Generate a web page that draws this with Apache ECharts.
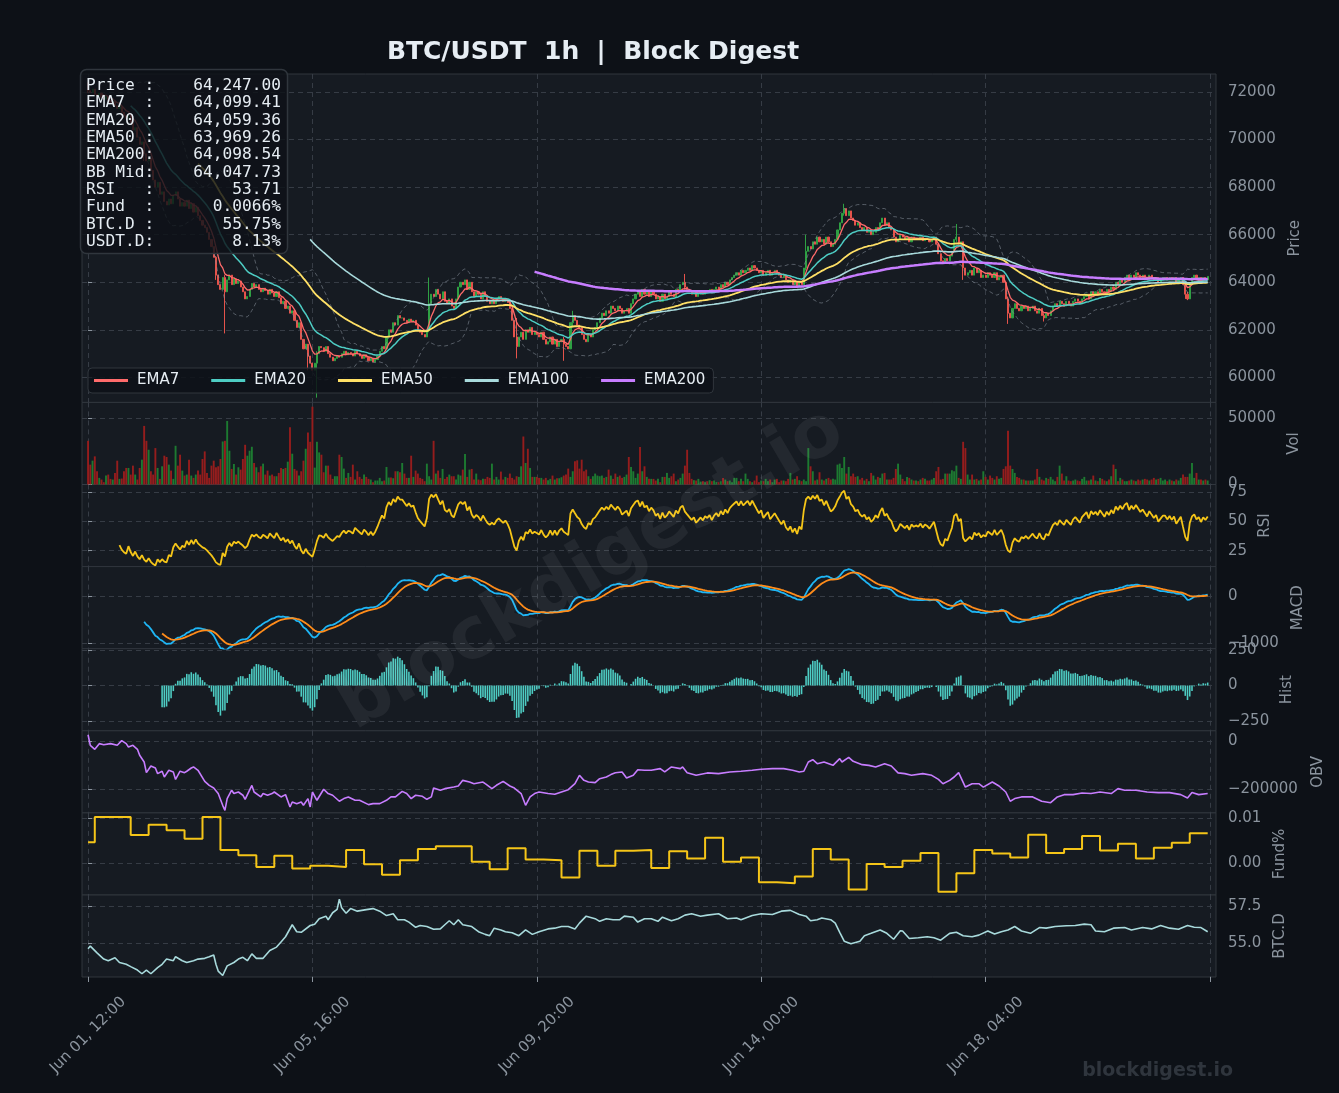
<!DOCTYPE html>
<html><head><meta charset="utf-8">
<script src="https://cdn.jsdelivr.net/npm/echarts@6/dist/echarts.min.js"></script>
<style>html,body{margin:0;padding:0;background:#0d1117;}#c{width:1339px;height:1093px;}</style>
</head><body><div id="c"></div>
<script>
// ---------------- DATA ----------------
const xTickHours = [0, 100, 200, 300, 400, 500];
const xTickLabels = ['Jun 01, 12:00', 'Jun 05, 16:00', 'Jun 09, 20:00', 'Jun 14, 00:00', 'Jun 18, 04:00'];
const priceTicks = [60000, 62000, 64000, 66000, 68000, 70000, 72000];
const volTicks = [0, 50000];
const rsiTicks = [25, 50, 75];
const macdTicks = [-1000, 0];
const histTicks = [-250, 0, 250];
const obvTicks = [-200000, 0];
const fundTicks = [0, 0.01];
const btcdTicks = [55, 57.5];
const legendNames = ['EMA7', 'EMA20', 'EMA50', 'EMA100', 'EMA200'];
const infoLines = [
  'Price :    64,247.00',
  'EMA7  :    64,099.41',
  'EMA20 :    64,059.36',
  'EMA50 :    63,969.26',
  'EMA200:    64,098.54',
  'BB Mid:    64,047.73',
  'RSI   :        53.71',
  'Fund  :      0.0066%',
  'BTC.D :       55.75%',
  'USDT.D:        8.13%'
];
const firstOpen = 72150;
// hourly closes, hour 0 = Jun 01 12:00
const closes = [
72050,71980,72120,71900,71850,71950,71780,71700,71820,71640,
71550,71600,71420,71300,71380,71150,71000,70900,71050,70700,
70400,70500,70100,69800,69900,69400,69100,69200,68700,68300,
68000,68200,67700,67800,67400,67250,67500,67300,67650,67800,
67500,67200,67350,67200,67450,67100,67300,66950,67150,66800,
66600,66400,66300,66100,65800,65500,65050,64300,63900,63700,
64200,63600,64100,64300,63900,64150,63950,64050,63800,63600,
63300,63400,63700,63950,63800,63900,63700,63600,63750,63650,
63500,63700,63550,63400,63600,63350,63100,63200,62900,63000,
62700,62800,62400,62100,62300,61600,61200,61400,60900,60600,
60300,60600,61000,61300,61250,61100,61300,61000,60850,60700,
60800,60900,60850,61000,61100,60950,61050,61000,60900,61100,
61000,60900,60800,60950,60850,60700,60800,60650,60750,60900,
61100,61300,61200,61700,62000,61900,62300,62200,62600,62500,
62500,62400,62300,62450,62350,62400,62200,62000,61900,61800,
61700,62000,63100,63500,63400,63700,63500,63300,63600,63200,
63100,63300,63000,62900,63300,63800,64000,63900,64100,63700,
64000,63600,63400,63600,63500,63300,63600,63400,63200,63100,
63200,63100,63300,63400,63300,63200,63300,63150,62900,62400,
61700,61300,61700,61900,61600,62000,61900,62100,61800,61900,
61800,61700,61900,61600,61400,61500,61700,61400,61600,61300,
61500,61600,61400,61300,61200,62300,62600,62400,62200,62100,
61800,61600,61500,61800,61700,62000,62100,62300,62500,62700,
62600,62800,62700,63000,62900,62800,63000,62900,62700,62800,
62900,62700,63100,63300,63500,63600,63400,63700,63500,63600,
63400,63600,63500,63300,63400,63200,63500,63300,63400,63600,
63500,63400,63700,63600,63900,64000,63800,63700,63600,63500,
63600,63400,63500,63600,63500,63650,63600,63700,63550,63700,
63800,63700,63900,63800,64000,63900,64100,64200,64300,64400,
64300,64500,64400,64500,64600,64500,64700,64600,64500,64400,
64500,64300,64400,64500,64300,64400,64500,64400,64300,64200,
64300,64100,64000,64100,63900,64000,63800,64000,63900,64600,
65300,65500,65400,65700,65600,65900,65700,65800,65600,65900,
65700,65500,65600,65800,66200,66500,66900,67100,66800,67000,
66700,66600,66400,66500,66300,66200,66300,66100,66200,66000,
66100,66300,66200,66500,66700,66400,66500,66300,66200,65900,
65700,65800,66000,65900,65800,65900,65700,65900,65800,65850,
65800,65900,65750,65850,65800,65700,65800,65900,65600,65200,
64900,64800,65000,64900,65100,65300,65800,65900,65600,65700,
64600,64300,64400,64500,64300,64600,64400,64500,64200,64300,
64200,64400,64300,64200,64400,64100,64200,64300,64000,63300,
62700,62500,62900,63100,62900,62800,63000,62900,63000,62800,
62900,63000,62800,62700,62900,62600,62500,62700,62600,62800,
63000,63100,63000,63200,63100,63000,63200,63100,63000,63200,
63300,63200,63100,63300,63400,63500,63300,63600,63500,63600,
63500,63700,63600,63500,63700,63600,63800,63700,64000,63900,
64100,64000,64200,64300,64100,64300,64200,64400,64300,64200,
64300,64200,64100,64300,64200,64100,64200,64000,64100,64200,
64200,64100,64200,64100,64200,64000,64100,64200,63900,63500,
63300,63900,64200,64300,64100,64200,64000,64200,64100,64247
];
// notable wicks: hour -> [high, low]
const wicks = {
  0:[72400,71950], 25:[69700,69100], 57:[65100,64100], 61:[64300,61850], 98:[61300,60300],
  102:[61100,59150], 152:[64200,61900], 191:[62500,60800], 212:[61700,60700], 216:[62800,62100],
  266:[64350,63700], 320:[66000,64500], 337:[67300,66800], 387:[66450,65700], 390:[65700,64100],
  410:[63400,62250], 426:[62700,62350], 489:[64000,63300], 490:[63600,63250]
};
const volumes = [
33000,15000,18000,21250,10000,5000,3750,1750,6750,7500,
4250,3750,8750,18000,4250,4500,10000,12500,12500,7500,
14250,7500,3750,12500,18750,44250,33000,26250,10000,7500,
27500,12500,4250,13750,21750,20750,15000,10500,4250,29250,
14250,22500,10500,6750,7500,18750,6750,5000,7500,10500,
7500,19250,25000,8750,5000,14250,18000,13000,13750,19250,
32500,33000,48000,25500,11750,15500,7500,13000,11250,19250,
30000,21750,25500,28500,16250,13000,9250,13750,15750,7500,
10500,6750,7500,6250,6250,8750,12500,11750,12500,17250,
43250,23250,11750,10500,6750,10000,18000,27000,39250,32250,
58750,12750,32250,24250,22500,9250,14250,14250,7500,4250,
6250,6250,22500,20750,12000,5000,8750,5750,15000,3750,
10000,5750,4250,7500,5750,4250,3750,1750,3000,3000,
5000,2500,3000,13250,5250,5250,4750,10000,10000,9250,
16250,8250,5000,5000,21750,5750,10500,8250,5000,4250,
2500,15750,6250,3750,33000,8250,10500,5000,11750,4250,
5750,7500,6250,6250,3750,7500,6750,11250,23000,5750,
11250,11750,3750,8250,3750,3250,4250,4250,5750,5000,
15750,3750,5750,3750,9750,3750,5750,5000,8250,5000,
3750,6250,5750,13750,36250,16250,27000,12500,5750,5750,
5750,5000,5000,3750,5000,3250,4250,6750,3750,4750,
4750,5500,6750,7500,12000,5750,10000,17500,18250,12000,
18750,10000,11250,6250,4250,6250,8250,6750,6250,6750,
5000,5750,11250,6750,4250,8250,5750,6750,5000,5750,
7500,20750,13250,10000,5000,8250,28250,10000,13750,5750,
4250,
4250,4250,3000,4250,1750,5750,5750,8750,5000,6250,
8250,2500,3750,5000,8250,14250,26250,8750,4250,3250,
3000,4250,2250,2500,1750,2500,3250,2500,3000,1750,
1750,2500,5000,3750,2500,3000,1750,5000,5000,2500,
4250,2500,8250,4250,2500,1750,3000,6750,
1750,3000,2500,4250,2500,3750,1750,3750,4250,1750,
3000,3000,2500,4250,8750,3750,4250,6250,3250,2500,
3750,2500,27500,13750,10000,3000,3750,9250,3750,3000,
4250,5000,3750,4250,3750,15000,15750,12500,20750,8250,
13250,6250,8250,5750,6250,3750,5000,3000,4250,
2500,8750,6750,3750,5750,5000,8250,8750,3750,3750,
3750,5000,11750,15750,7500,4250,2500,5750,5000,3750,
3000,3000,2500,3750,5000,4250,3000,3000,3750,5000,
10000,13250,3750,4250,8250,8250,8250,10750,10000,14250,
5000,4250,32250,27500,7500,3750,7500,3750,4250,
3000,3750,10000,5750,3750,6750,5000,3750,6250,4250,
5000,11750,13750,40500,14250,11750,8750,5750,5000,3750,
3750,3000,3000,3000,3000,3750,11750,5750,3750,3000,
5000,4250,5750,3750,2500,5750,14250,8250,3000,6250,
3000,2500,3000,3750,3000,2500,4250,5750,3000,
3000,3750,6750,3000,2500,5000,4250,3000,2500,3750,
6250,15000,11750,2500,5000,3750,2500,2500,3000,3750,
3000,2500,3750,3000,3750,4250,3750,3000,3750,5000,
3750,4250,5000,3000,3750,2500,3750,3000,2500,3750,
3000,5000,7500,5750,5750,8250,16250,5000,8750,3750,3750,3000,3750,
3000
];
// OBV: [hour, value]
const obvPoints = [
[0,26000],[1,-18000],[3,-34500],[5,-11000],[7,-15500],[10,-11000],[13,-18000],[15,1500],[17,-11000],[18,-25000],
[20,-18000],[22,-34500],[23,-59500],[25,-87500],[26,-132000],[28,-104000],[30,-112500],[31,-136000],[33,-126000],[34,-150000],
[36,-122000],[38,-129000],[39,-160000],[41,-126000],[43,-132000],[44,-126000],[46,-112500],[47,-108000],[49,-122000],[52,-168000],
[54,-185000],[56,-196000],[58,-219000],[60,-268000],[61,-289000],[62,-240000],[64,-205000],[65,-219000],[67,-212500],[69,-226000],
[70,-243000],[73,-185000],[74,-212500],[77,-233000],[78,-219000],[80,-226000],[82,-219000],[83,-212500],[86,-233000],[88,-223500],
[90,-275000],[91,-254000],[93,-261000],[95,-254000],[96,-268000],[98,-240000],[99,-275000],[100,-212500],[102,-247000],[105,-201000],
[107,-219000],[109,-226000],[112,-251000],[114,-240000],[116,-233000],[119,-247000],[121,-247000],[125,-265000],[127,-261000],[130,-261000],
[133,-247000],[135,-233000],[137,-233000],[140,-210000],[142,-219000],[144,-240000],[146,-226000],[149,-230500],[151,-243000],[153,-233000],
[154,-196000],[157,-205500],[159,-198500],[163,-191500],[165,-187500],[167,-164000],[170,-171000],[172,-178000],[176,-171000],[177,-178000],
[180,-198500],[182,-184500],[185,-168000],[188,-187500],[190,-196000],[193,-219000],[195,-268000],[197,-233000],[199,-219000],[201,-212500],
[205,-219000],[208,-222000],[211,-212500],[214,-203000],[217,-178000],[219,-143000],[221,-164000],[223,-171000],[226,-173500],[228,-157000],
[231,-150000],[233,-140000],[235,-132000],[238,-129000],[240,-154000],[243,-143000],[245,-119500],[248,-122000],[251,-122000],[255,-115000],
[257,-129000],[260,-108000],[264,-115000],[265,-108000],[267,-132000],[271,-143000],[276,-133000],[281,-136000],[286,-129000],[291,-126000],
[296,-122000],[300,-118000],[305,-115000],[310,-115000],[314,-122000],[317,-129000],[319,-126000],[321,-87500],[323,-78000],[325,-94500],
[328,-87500],[332,-101500],[335,-73500],[336,-87500],[339,-68000],[341,-84500],[345,-98500],[348,-101500],[351,-108000],[355,-94500],
[358,-104000],[361,-133000],[364,-136000],[367,-143000],[372,-136000],[376,-143000],[379,-160000],[381,-178000],[384,-164000],[386,-150000],
[388,-132000],[391,-192000],[394,-178000],[397,-178000],[399,-192000],[403,-171000],[406,-187500],[409,-212500],[411,-251000],[413,-240000],
[416,-233000],[421,-233000],[425,-251000],[429,-257000],[432,-233000],[435,-223500],[439,-223500],[443,-216500],[447,-219000],[451,-212500],
[456,-219000],[459,-198500],[462,-205500],[467,-205500],[472,-212500],[477,-215000],[482,-215000],[487,-223500],[490,-237500],[492,-215000],
[495,-223500],[499,-219000]
];
// funding rate (%) changes: hour where each 8h period starts, and its rate
const fundHours = [0,3,19,27,35,43,51,59,67,75,83,91,99,107,115,123,131,139,147,155,171,179,187,195,203,211,219,227,235,243,251,259,267,275,283,291,299,307,315,323,331,339,347,355,363,371,379,387,395,403,411,419,427,435,443,451,459,467,475,483,491,499];
const fundRates = [0.0046,0.0102,0.0062,0.0085,0.0073,0.0054,0.0102,0.0029,0.0017,-0.0009,0.0016,-0.0012,-0.0006,-0.0009,0.0029,-0.0003,-0.0026,0.0006,0.0031,0.0037,0.0003,-0.0014,0.0033,0.0008,0.0006,-0.0032,0.0027,-0.0006,0.0027,0.0029,-0.0011,0.0026,0.0010,0.0056,0.0003,0.0012,-0.0043,-0.0045,-0.0030,0.0031,0.0008,-0.0059,-0.0002,-0.0009,0.0005,0.0022,-0.0064,-0.0023,0.0029,0.0021,0.0012,0.0063,0.0022,0.0031,0.0060,0.0028,0.0043,0.0010,0.0034,0.0045,0.0066,0.0066];
// BTC dominance (%): [hour, value]
const btcdPoints = [
[0,54.61],[1,54.79],[4,54.33],[7,53.91],[9,53.80],[12,54.00],[14,53.68],[17,53.56],[19,53.40],[22,53.17],
[24,52.92],[26,53.17],[28,52.92],[31,53.33],[33,53.56],[35,53.91],[38,53.80],[39,54.07],[42,53.80],[44,53.68],
[47,53.80],[49,53.91],[52,53.96],[54,54.07],[56,54.19],[57,53.56],[58,53.10],[60,52.80],[62,53.45],[65,53.68],
[67,53.91],[69,54.03],[71,53.80],[73,54.26],[75,53.96],[78,53.96],[81,54.49],[84,54.72],[86,55.07],[88,55.42],
[91,56.23],[93,55.76],[95,55.72],[99,56.18],[101,56.27],[103,56.64],[106,56.81],[107,56.57],[109,57.04],[111,57.27],
[112,57.96],[113,57.38],[115,57.01],[117,57.32],[120,57.15],[124,57.25],[127,57.32],[130,57.15],[133,56.85],[136,56.97],
[138,56.57],[141,56.57],[143,56.41],[146,56.06],[148,56.18],[151,56.11],[154,55.93],[157,55.95],[159,56.23],[161,56.50],
[163,56.23],[165,56.57],[167,56.23],[171,56.11],[174,55.76],[177,55.58],[179,55.49],[181,56.00],[184,55.88],[186,55.76],
[189,55.69],[192,55.49],[195,55.88],[198,55.58],[201,55.76],[205,55.95],[208,56.00],[211,56.11],[214,56.11],[217,55.95],
[219,56.34],[222,56.81],[226,56.64],[228,56.46],[231,56.64],[234,56.57],[237,56.57],[239,56.81],[243,56.74],[245,56.41],
[248,56.64],[251,56.64],[254,56.46],[256,56.74],[260,56.50],[263,56.64],[266,56.88],[269,56.97],[273,56.81],[276,56.88],
[281,56.97],[285,56.64],[289,56.69],[291,56.57],[296,56.85],[300,56.97],[305,56.92],[309,57.15],[313,57.20],[317,56.92],
[320,56.81],[322,56.50],[325,56.57],[327,56.69],[331,56.57],[333,56.34],[335,55.72],[337,55.12],[340,54.95],[344,55.12],
[346,55.49],[349,55.65],[353,55.88],[356,55.65],[359,55.25],[362,55.83],[363,55.81],[366,55.30],[370,55.35],[374,55.42],
[377,55.35],[380,55.19],[384,55.65],[387,55.72],[390,55.49],[394,55.42],[397,55.53],[401,55.81],[404,55.60],[407,55.76],
[410,55.88],[413,56.11],[416,55.81],[420,55.65],[424,56.04],[427,56.00],[431,56.11],[436,56.16],[440,56.18],[444,56.27],
[447,56.23],[449,55.81],[453,55.76],[457,56.00],[462,56.04],[465,55.88],[470,56.04],[474,55.95],[478,56.18],[482,56.00],
[486,55.93],[490,56.18],[493,56.06],[496,56.04],[499,55.76]
];

// ---------------- DERIVED INDICATORS ----------------
const N = closes.length;
const opens = closes.map((c, i) => i === 0 ? firstOpen : closes[i - 1]);
const candleData = closes.map((c, i) => {
  const o = opens[i];
  let hi = Math.max(o, c), lo = Math.min(o, c);
  if (wicks[i]) { hi = Math.max(hi, wicks[i][0]); lo = Math.min(lo, wicks[i][1]); }
  return [i, o, c, lo, hi];
});
function ema(src, span, minP) {
  const a = 2 / (span + 1); const out = []; let prev = null, n = 0;
  src.forEach(v => {
    if (v == null) { out.push(null); return; }
    prev = prev == null ? v : a * v + (1 - a) * prev; n++;
    out.push(n >= minP ? prev : null);
  });
  return out;
}
const pairs = arr => arr.map((v, i) => v == null ? null : [i, v]).filter(p => p);
const ema7 = ema(closes, 7, 7), ema20 = ema(closes, 20, 20), ema50 = ema(closes, 50, 50);
const ema100 = ema(closes, 100, 100), ema200 = ema(closes, 200, 200);
const bbU = [], bbL = [];
for (let i = 0; i < N; i++) {
  if (i < 19) { bbU.push(null); bbL.push(null); continue; }
  let s = 0; for (let k = i - 19; k <= i; k++) s += closes[k];
  const m = s / 20; let q = 0; for (let k = i - 19; k <= i; k++) q += (closes[k] - m) ** 2;
  const sd = Math.sqrt(q / 19); bbU.push(m + 2 * sd); bbL.push(m - 2 * sd);
}
// RSI(14), Wilder smoothing
const rsi = new Array(N).fill(null);
{
  let ag = 0, al = 0;
  for (let k = 1; k <= 14; k++) { const d = closes[k] - closes[k - 1]; if (d > 0) ag += d; else al -= d; }
  ag /= 14; al /= 14;
  rsi[14] = 100 - 100 / (1 + ag / al);
  for (let i = 15; i < N; i++) {
    const d = closes[i] - closes[i - 1];
    ag = (ag * 13 + Math.max(d, 0)) / 14; al = (al * 13 + Math.max(-d, 0)) / 14;
    rsi[i] = al === 0 ? 100 : 100 - 100 / (1 + ag / al);
  }
}
const e12 = ema(closes, 12, 1), e26 = ema(closes, 26, 1);
const macd = closes.map((c, i) => i < 25 ? null : e12[i] - e26[i]);
const signal = ema(macd, 9, 9);
const hist = macd.map((m, i) => (m == null || signal[i] == null) ? null : m - signal[i]);

// ---------------- STYLE ----------------
const UP = '#2ea043', DOWN = '#e5534b';
const VUP = '#1d7a31', VDOWN = '#951d1d';
const TXT = '#8b949e', GRIDC = '#363c45', FONT = 'DejaVu Sans';
const tops = [74, 402.4, 484.5, 566.6, 648.7, 730.8, 812.9, 895];
const heights = [328.4, 82.1, 82.1, 82.1, 82.1, 82.1, 82.1, 82];
const minus = v => String(v).replace('-', '\u2212');
const yCfg = [
  {min: 58950, max: 72755, ticks: priceTicks, name: 'Price', gap: 72, fmt: minus},
  {min: 0, max: 62000, ticks: volTicks, name: 'Vol', gap: 69, fmt: minus},
  {min: 11.4, max: 81.5, ticks: rsiTicks, name: 'RSI', gap: 40, fmt: minus},
  {min: -1124, max: 639, ticks: macdTicks, name: 'MACD', gap: 75, fmt: minus},
  {min: -319, max: 259, ticks: histTicks, name: 'Hist', gap: 64, fmt: minus},
  {min: -299600, max: 42500, ticks: obvTicks, name: 'OBV', gap: 95, fmt: minus},
  {min: -0.00711, max: 0.01113, ticks: fundTicks, name: 'Fund%', gap: 56, fmt: v => v.toFixed(2)},
  {min: 52.70, max: 58.24, ticks: btcdTicks, name: 'BTC.D', gap: 56, fmt: v => v.toFixed(1)}
];
const grid = tops.map((t, k) => ({left: 82, right: 123, top: t, height: heights[k], show: true,
  backgroundColor: '#161b22', borderColor: '#30363d', borderWidth: 1, containLabel: false}));
const xAxis = tops.map((t, k) => ({
  type: 'value', gridIndex: k, min: -2.7, max: 502.7,
  axisLine: {show: false},
  axisTick: {show: k === 7, customValues: xTickHours, length: 5, lineStyle: {color: TXT}},
  axisLabel: {show: k === 7, customValues: xTickHours.slice(0, 5), formatter: v => xTickLabels[Math.round(v / 100)] || '',
    rotate: 45, align: 'center', verticalAlign: 'middle', margin: 58, color: TXT, fontSize: 15, fontFamily: FONT},
  splitLine: {show: true, lineStyle: {color: GRIDC, type: [5, 4], width: 1}}
}));
const yAxis = yCfg.map((c, k) => ({
  type: 'value', gridIndex: k, position: 'right', min: c.min, max: c.max, scale: true,
  name: c.name, nameLocation: 'middle', nameGap: c.gap, nameRotate: 90,
  nameTextStyle: {color: TXT, fontSize: 15, fontFamily: FONT},
  axisLine: {show: false},
  axisTick: {show: true, customValues: c.ticks, length: 4, lineStyle: {color: TXT}},
  axisLabel: {customValues: c.ticks, formatter: c.fmt, color: TXT, fontSize: 15, fontFamily: FONT, margin: 12},
  splitLine: {show: true, lineStyle: {color: GRIDC, type: [5, 4], width: 1}}
}));
const line = (name, data, color, width, k, extra) => Object.assign({
  name, type: 'line', xAxisIndex: k, yAxisIndex: k, data, showSymbol: false, symbol: 'none',
  color, lineStyle: {color, width}, z: 3, silent: true
}, extra || {});

const series = [
  {type: 'candlestick', name: 'Price', xAxisIndex: 0, yAxisIndex: 0, data: candleData, barWidth: '70%', z: 2,
    itemStyle: {color: UP, color0: DOWN, borderColor: UP, borderColor0: DOWN, borderWidth: 1}},
  line('BBU', pairs(bbU), 'rgba(139,148,158,0.55)', 1, 0, {lineStyle: {color: 'rgba(139,148,158,0.55)', width: 1, type: [4, 3]}}),
  line('BBL', pairs(bbL), 'rgba(139,148,158,0.55)', 1, 0, {lineStyle: {color: 'rgba(139,148,158,0.55)', width: 1, type: [4, 3]}}),
  line('EMA7', pairs(ema7), '#ff6b6b', 1.3, 0),
  line('EMA20', pairs(ema20), '#4ecdc4', 1.5, 0),
  line('EMA50', pairs(ema50), '#ffe066', 1.8, 0),
  line('EMA100', pairs(ema100), '#a8dadc', 1.6, 0),
  line('EMA200', pairs(ema200), '#c77dff', 2.5, 0),
  {type: 'bar', name: 'Vol', xAxisIndex: 1, yAxisIndex: 1, barWidth: '85%', silent: true,
    data: volumes.map((v, i) => ({value: [i, v], itemStyle: {color: closes[i] >= opens[i] ? VUP : VDOWN}}))},
  line('RSI', pairs(rsi), '#f5c518', 1.8, 2),
  line('MACD', pairs(macd), '#1fb6f5', 1.8, 3),
  line('Signal', pairs(signal), '#ff8c1a', 1.8, 3),
  {type: 'bar', name: 'Hist', xAxisIndex: 4, yAxisIndex: 4, barWidth: '70%', silent: true,
    data: pairs(hist), itemStyle: {color: '#4ecdc4'}},
  line('OBV', obvPoints, '#c77dff', 1.6, 5),
  line('Fund', fundHours.map((h, i) => [h, fundRates[i]]), '#f5c518', 2, 6, {step: 'end'}),
  line('BTC.D', btcdPoints, '#a8dadc', 1.6, 7)
];

const chart = echarts.init(document.getElementById('c'), null, {renderer: 'canvas'});
chart.setOption({
  animation: false,
  backgroundColor: '#0d1117',
  grid, xAxis, yAxis, series,
  legend: {
    data: legendNames, left: 88, top: 368, icon: 'rect', itemWidth: 34, itemHeight: 3, itemGap: 32,
    padding: [5, 8, 5, 6], backgroundColor: 'rgba(13,17,23,0.85)', borderColor: '#30363d', borderWidth: 1, borderRadius: 4,
    textStyle: {color: '#e6edf3', fontSize: 15, fontFamily: FONT, padding: [0, 0, 0, 4]}
  },
  graphic: [
    {type: 'text', z: 100, x: 0, y: 0, style: {text: 'BTC/USDT  1h  |  Block Digest', x: 593, y: 52,
      textAlign: 'center', textVerticalAlign: 'middle', fill: '#e6edf3', font: 'bold 25px "DejaVu Sans"'}},
    {type: 'rect', z: 100, shape: {x: 80.5, y: 69.5, width: 207, height: 184, r: 6},
      style: {fill: 'rgba(13,17,23,0.82)', stroke: '#30363d', lineWidth: 1.5}},
    {type: 'text', z: 101, x: 86, y: 77, style: {text: infoLines.join('\n'), fill: '#e6edf3',
      font: '16.2px "DejaVu Sans Mono"', lineHeight: 17.35}},
    {type: 'text', z: 90, x: 592, y: 570, rotation: 0.53, silent: true,
      style: {text: 'blockdigest.io', textAlign: 'center', textVerticalAlign: 'middle',
        fill: 'rgba(255,255,255,0.06)', font: 'bold 72px "DejaVu Sans"'}},
    {type: 'text', z: 100, x: 1233, y: 1071, style: {text: 'blockdigest.io', textAlign: 'right', textVerticalAlign: 'middle',
      fill: '#2f353d', font: 'bold 19px "DejaVu Sans"'}}
  ]
});
</script></body></html>
